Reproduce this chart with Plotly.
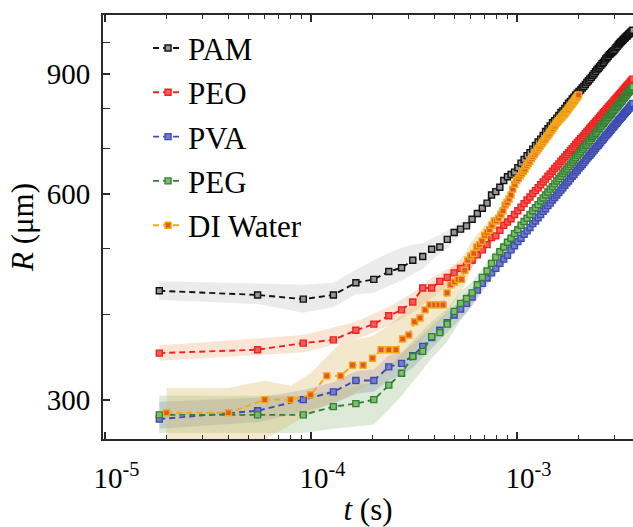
import numpy as np
import plotly.graph_objects as go

# ---------------- data ----------------
# polymer solutions: frame interval 36.9 us, t = (frame + 0.5) * dt
dt_poly = 3.69e-5
frames_poly = np.arange(100)
t_poly = (frames_poly + 0.5) * dt_poly
# DI water: frame interval 20 us
dt_di = 2e-5
frames_di = np.arange(1, 101)
t_di = frames_di * dt_di

R_PAM = [433, 427, 421, 427, 445, 450, 462, 468, 480, 486, 498, 502, 515, 527, 533, 539, 551, 562, 572, 582,
         598, 605, 614, 628, 636, 641, 646, 656, 666, 674, 683, 690, 698, 707, 715, 722, 731, 741, 748, 755,
         763, 768, 775, 782, 790, 794, 801, 808, 815, 820, 827, 832, 838, 843, 848, 852, 858, 862, 868, 874,
         879, 884, 889, 895, 900, 906, 912, 916, 921, 926, 931, 935, 940, 946, 950, 955, 960, 963, 967, 970,
         973, 978, 983, 987, 992, 996, 1000, 1003, 1007, 1010, 1014, 1017, 1021, 1023, 1027, 1030, 1033, 1036, 1039, 1042]
R_PEO = [351, 355, 363, 367, 379, 387, 398, 406, 417, 437, 437, 447, 453, 460, 467, 470, 480, 489, 497, 506,
         518, 521, 531, 540, 546, 552, 560, 567, 574, 581, 588, 594, 601, 607, 613, 619, 625, 631, 637, 642,
         648, 654, 659, 664, 670, 675, 680, 685, 690, 695, 699, 704, 709, 714, 718, 723, 727, 731, 736, 740,
         744, 749, 753, 757, 761, 765, 769, 773, 777, 781, 785, 789, 792, 796, 800, 804, 807, 811, 814, 818,
         821, 825, 828, 832, 835, 839, 842, 845, 849, 852, 855, 859, 862, 865, 868, 871, 875, 878, 881, 884]
R_PVA = [281, 289, 300, 308, 320, 320, 335, 339, 348, 359, 370, 379, 389, 399, 407, 415, 424, 434, 444, 452,
         460, 467, 475, 482, 488, 497, 504, 511, 517, 524, 530, 536, 543, 548, 554, 560, 566, 571, 577, 582,
         588, 593, 598, 603, 608, 613, 618, 623, 627, 632, 637, 641, 646, 650, 655, 659, 663, 667, 672, 676,
         680, 684, 688, 692, 696, 700, 704, 707, 711, 715, 719, 722, 726, 730, 733, 737, 740, 744, 747, 751,
         754, 758, 761, 764, 768, 771, 774, 777, 780, 784, 787, 790, 793, 796, 799, 802, 805, 808, 811, 814]
R_PEG = [285, 285, 285, 293, 296, 300, 315, 328, 347, 353, 371, 376, 387, 404, 415, 422, 430, 442, 453, 463,
         475, 485, 494, 502, 510, 517, 525, 532, 540, 547, 553, 560, 567, 573, 579, 586, 592, 598, 604, 610,
         615, 621, 627, 632, 637, 643, 648, 653, 658, 663, 668, 673, 678, 683, 687, 692, 697, 701, 706, 710,
         715, 719, 724, 728, 732, 736, 740, 745, 749, 753, 757, 761, 765, 769, 773, 777, 781, 784, 788, 792,
         796, 799, 803, 806, 810, 814, 817, 820, 824, 828, 831, 835, 838, 841, 845, 848, 851, 854, 858, 861]
R_DI = [287, 287, 300, 300, 305, 325, 325, 337, 337, 345, 355, 355, 355, 368, 373, 390, 395, 406, 413, 413,
        413, 413, 430, 442, 446, 450, 450, 464, 480, 487, 491, 502, 506, 512, 522, 527, 532, 540, 548, 548,
        553, 560, 567, 578, 583, 590, 598, 610, 620, 628, 632, 638, 643, 648, 653, 660, 665, 670, 676, 681,
        686, 691, 696, 700, 705, 710, 714, 718, 722, 727, 731, 735, 740, 744, 748, 753, 757, 762, 765, 768,
        772, 775, 778, 782, 785, 788, 792, 795, 799, 803, 806, 810, 813, 817, 820, 824, 828, 831, 835, 838]

# shaded bands (frame index, lower, upper)
band_PAM_f = [0, 1, 2, 3, 4, 5, 6, 7, 8, 9, 10, 12, 14, 16, 18, 20, 24, 30, 40, 60, 99]
band_PAM_lo = [420, 414, 402, 410, 428, 430, 440, 448, 458, 466, 480, 500, 522, 543, 565, 590, 630, 677, 755, 872, 1035]
band_PAM_hi = [447, 443, 442, 445, 465, 480, 492, 500, 506, 508, 516, 530, 545, 560, 580, 605, 643, 690, 770, 886, 1049]

band_PEO_f = [0, 2, 4, 6, 8, 10, 12, 15, 20, 25, 40, 60, 99]
band_PEO_lo = [342, 352, 367, 385, 402, 422, 440, 458, 508, 543, 640, 738, 878]
band_PEO_hi = [360, 373, 390, 410, 430, 452, 466, 482, 528, 562, 656, 750, 890]

band_PVA_f = [0, 1, 2, 3, 4, 5, 6, 7, 8, 10, 12, 15, 20, 25, 40, 60, 99]
band_PVA_lo = [272, 278, 288, 296, 306, 308, 320, 326, 334, 356, 376, 402, 450, 488, 580, 674, 808]
band_PVA_hi = [298, 302, 310, 318, 330, 332, 348, 352, 362, 384, 402, 428, 470, 506, 596, 686, 820]

band_PEG_f = [0, 1, 2, 3, 4, 5, 6, 7, 8, 10, 12, 14, 16, 18, 20, 25, 40, 60, 99]
band_PEG_lo = [268, 268, 268, 272, 274, 276, 290, 304, 318, 345, 365, 392, 412, 440, 465, 505, 606, 708, 855]
band_PEG_hi = [304, 304, 304, 310, 314, 318, 335, 350, 366, 390, 408, 432, 446, 466, 488, 528, 624, 722, 867]

band_DI_f = [1, 2, 3, 4, 5, 6, 7, 8, 10, 12, 14, 16, 18, 20, 22, 24, 26, 28, 30, 35, 40, 45, 50, 60, 70, 80, 90, 100]
band_DI_lo = [252, 252, 262, 276, 286, 296, 300, 306, 318, 330, 342, 355, 372, 385, 392, 410, 425, 440, 465, 505, 535, 572, 615, 670, 715, 758, 795, 828]
band_DI_hi = [312, 312, 320, 314, 328, 347, 363, 366, 372, 385, 400, 420, 440, 445, 440, 468, 478, 490, 510, 540, 562, 595, 642, 692, 738, 778, 813, 848]

names = ["PAM", "PEO", "PVA", "PEG", "DI Water"]
line_colors = ["#111111", "rgb(238,34,34)", "rgb(62,76,176)", "rgb(52,128,52)", "rgb(244,168,24)"]
fill_colors = ["rgb(150,150,150)", "rgb(248,90,90)", "rgb(115,125,205)", "rgb(125,190,105)", "rgb(226,88,36)"]
band_colors = ["rgba(190,190,190,0.30)", "rgba(240,165,110,0.30)", "rgba(120,120,190,0.28)",
               "rgba(130,180,110,0.28)", "rgba(220,185,100,0.33)"]

series_t = [t_poly, t_poly, t_poly, t_poly, t_di]
series_R = [R_PAM, R_PEO, R_PVA, R_PEG, R_DI]
bands = [
    ((np.array(band_PAM_f) + 0.5) * dt_poly, band_PAM_lo, band_PAM_hi),
    ((np.array(band_PEO_f) + 0.5) * dt_poly, band_PEO_lo, band_PEO_hi),
    ((np.array(band_PVA_f) + 0.5) * dt_poly, band_PVA_lo, band_PVA_hi),
    ((np.array(band_PEG_f) + 0.5) * dt_poly, band_PEG_lo, band_PEG_hi),
    (np.array(band_DI_f) * dt_di, band_DI_lo, band_DI_hi),
]

fig = go.Figure()

# bands first (below all lines)
for (bt, lo, hi), bc in zip(bands, band_colors):
    bt = list(bt)
    fig.add_trace(go.Scatter(
        x=bt + bt[::-1], y=list(hi) + list(lo)[::-1],
        fill="toself", fillcolor=bc, mode="lines", line=dict(width=0),
        hoverinfo="skip", showlegend=False))

for name, t, R, lc, fc in zip(names, series_t, series_R, line_colors, fill_colors):
    fig.add_trace(go.Scatter(
        x=t, y=R, name=name, legendgroup=name, mode="lines+markers",
        line=dict(color=lc, width=1.9, dash="6px,4px"),
        marker=dict(symbol="square", size=6, color=fc, line=dict(color=lc, width=1.4)),
    ))

axis_color = "#2a2a2a"
x_minor = [k * 10.0 ** e for e in (-5, -4, -3) for k in range(2, 10)]
fig.update_xaxes(
    type="log", range=[-5.0073, -2.4345],
    tickvals=[1e-5, 1e-4, 1e-3],
    ticktext=["10<sup>-5</sup>", "10<sup>-4</sup>", "10<sup>-3</sup>"],
    ticks="inside", ticklen=7, tickwidth=1.5, tickcolor=axis_color,
    showline=True, linecolor=axis_color, linewidth=1.8, mirror="ticks",
    showgrid=False, zeroline=False,
    minor=dict(tickvals=x_minor, ticks="inside", ticklen=4, tickwidth=1.3,
               tickcolor=axis_color, showgrid=False),
    tickfont=dict(family="Liberation Serif", size=29, color="black"),
    ticklabelshift=12, ticklabelstandoff=12,
    title=dict(text="<i>t</i> (s)", font=dict(family="Liberation Serif", size=31, color="black"), standoff=8),
)
fig.update_yaxes(
    type="log", range=[2.4195, 3.0403],
    tickvals=[300, 600, 900], ticktext=["300", "600", "900"],
    ticks="inside", ticklen=7, tickwidth=1.5, tickcolor=axis_color,
    showline=True, linecolor=axis_color, linewidth=1.8, mirror=False,
    showgrid=False, zeroline=False,
    minor=dict(tickvals=[400, 500, 700, 800, 1000], ticks="inside", ticklen=7, tickwidth=1.3,
               tickcolor=axis_color, showgrid=False),
    tickfont=dict(family="Liberation Serif", size=29, color="black"),
    ticklabelstandoff=5,
    title=dict(text="<i>R</i> (μm)", font=dict(family="Liberation Serif", size=31, color="black"), standoff=4),
)

fig.update_layout(
    width=633, height=527,
    margin=dict(l=103, r=0, t=15, b=88),
    plot_bgcolor="white", paper_bgcolor="white",
    font=dict(family="Liberation Serif", size=29, color="black"),
    legend=dict(x=0.085, y=0.985, xanchor="left", yanchor="top",
                bgcolor="rgba(0,0,0,0)", borderwidth=0,
                traceorder="grouped", tracegroupgap=1,
                font=dict(family="Liberation Serif", size=31, color="black")),
)

fig.write_html("out.html", config={"displayModeBar": False},
               post_script="document.body.style.margin='0px';")
